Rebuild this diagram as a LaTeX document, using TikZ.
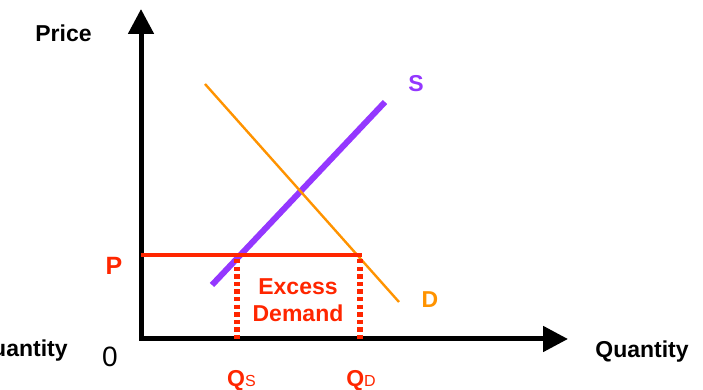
\documentclass[tikz,border=0pt]{standalone}
\usepackage{fontspec}
\setmainfont{Liberation Sans}
\usetikzlibrary{arrows.meta}

\definecolor{supplypurple}{HTML}{9437FF}
\definecolor{demandorange}{HTML}{FF9300}
\definecolor{pricered}{HTML}{FF2600}

\begin{document}
\begin{tikzpicture}[
		x=0.5pt,y=0.5pt,
		axis/.style={line width=2.5pt,
			{Triangle[length=12.5pt,width=12.5pt]}-{Triangle[length=12.5pt,width=12.5pt]}},
		lbl/.style={font=\fontsize{11.5}{13.5}\selectfont\bfseries,inner sep=0pt},
		dotline/.style={pricered,line width=2.6pt,dash pattern=on 2.2pt off 1.6pt}
		]
		
		% frame of the picture
		\useasboundingbox (0,0) rectangle (703,390);
		\clip (0,0) rectangle (703,390);
		
		% =========================
		% axes
		% =========================
		\coordinate (O) at (141,51);
		\coordinate (ytip) at (141,381);
		\coordinate (xtip) at (568,51);
		\draw[axis] (ytip) -- (O) -- (xtip);
		
		\node[lbl,anchor=base] (price) at (63.5,348) {Price};
		\node[lbl,anchor=base] (quantity) at (642,32) {Quantity};
		\node[lbl,anchor=base east] (quantity left) at (68,33) {Quantity};
		\node[font=\fontsize{14}{14}\selectfont,inner sep=0pt,anchor=base] (zero) at (110,23) {0};
		
		% =========================
		% supply and demand
		% =========================
		\coordinate (s low) at (212,105);
		\coordinate (s high) at (385,288);
		\draw[supplypurple,line width=3pt] (s low) -- (s high);
		\node[lbl,text=supplypurple,anchor=base] (s label) at (416,298) {S};
		
		\coordinate (d high) at (205,306);
		\coordinate (d low) at (399,88);
		\draw[demandorange,line width=1.2pt] (d high) -- (d low);
		\node[lbl,text=demandorange,anchor=base] (d label) at (430,82) {D};
		
		% =========================
		% price below equilibrium
		% =========================
		\coordinate (p left) at (141,135);
		\coordinate (p right) at (362,135);
		\draw[pricered,line width=2.3pt] (p left) -- (p right);
		\node[lbl,text=pricered,font=\fontsize{12.5}{12.5}\selectfont\bfseries,anchor=base] (p label) at (114,115) {P};
		
		\coordinate (qs top) at (237,131);
		\coordinate (qs base) at (237,51);
		\coordinate (qd top) at (360,131);
		\coordinate (qd base) at (360,51);
		\draw[dotline] (qs top) -- (qs base);
		\draw[dotline] (qd top) -- (qd base);
		
		\node[lbl,text=pricered,align=center] (excess) at (298,90) {Excess\\Demand};
		
		\node[lbl,text=pricered,anchor=base] (qs label) at (241.5,3)
		{Q{\fontsize{8}{8}\selectfont\mdseries S}};
		\node[lbl,text=pricered,anchor=base] (qd label) at (361,3)
		{Q{\fontsize{8}{8}\selectfont\mdseries D}};
		
	\end{tikzpicture}
\end{document}
